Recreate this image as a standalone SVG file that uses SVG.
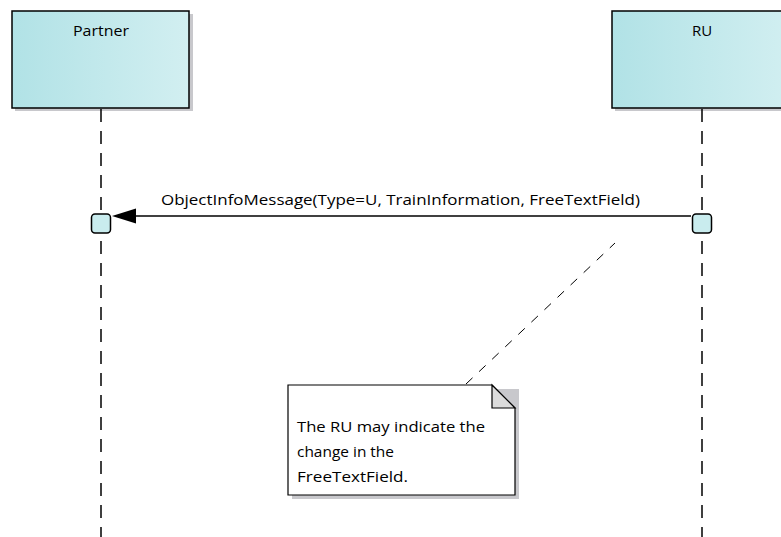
<svg xmlns="http://www.w3.org/2000/svg" width="781" height="537" viewBox="0 0 781 537">
<style>
  text { font-family: "Open Sans", "Liberation Sans", Arial, sans-serif; font-size: 15px; fill: #000; }
  .hdr { fill: url(#hg); stroke: #000; stroke-width: 1.5; }
  .shadow { fill: #c8c8cc; }
  .life { stroke: #000; stroke-width: 1.5; stroke-dasharray: 13 9; fill: none; }
  .act { fill: #c9ecee; stroke: #000; stroke-width: 1.5; }
  .msg { stroke: #000; stroke-width: 1.5; fill: none; }
  .notelink { stroke: #000; stroke-width: 1; stroke-dasharray: 9 9; fill: none; }
  .note { fill: #fff; stroke: #000; stroke-width: 1.2; }
  .fold { fill: #dcdcdc; stroke: #000; stroke-width: 1.2; }
</style>
<defs>
  <linearGradient id="hg" x1="0" y1="0" x2="1" y2="0">
    <stop offset="0" stop-color="#b1e2e6"/>
    <stop offset="1" stop-color="#d2eff1"/>
  </linearGradient>
</defs>
<rect width="781" height="537" fill="#fff"/>

<g id="partner">
  <rect class="shadow" x="15" y="14" width="178" height="97"/>
  <rect class="hdr" x="12" y="11" width="177" height="97"/>
  <text x="101" y="36" text-anchor="middle" textLength="56" lengthAdjust="spacingAndGlyphs">Partner</text>
  <line class="life" x1="101" y1="109" x2="101" y2="537"/>
</g>

<g id="ru">
  <rect class="shadow" x="615" y="14" width="180" height="97"/>
  <rect class="hdr" x="612" y="11" width="180" height="97"/>
  <text x="702" y="36" text-anchor="middle">RU</text>
  <line class="life" x1="702" y1="109" x2="702" y2="537"/>
</g>

<g id="connectors">
  <line class="msg" x1="691" y1="216" x2="134" y2="216"/>
  <polygon points="112,216 136,208.5 136,223.5" fill="#000"/>
  <text x="161" y="205" textLength="479" lengthAdjust="spacingAndGlyphs">ObjectInfoMessage(Type=U, TrainInformation, FreeTextField)</text>
  <line class="notelink" x1="466" y1="384" x2="615" y2="243"/>
</g>

<g id="activations">
  <rect class="act" x="91.5" y="214" width="19" height="19" rx="3.5"/>
  <rect class="act" x="692.5" y="214" width="19" height="19" rx="3.5"/>
</g>

<g id="note">
  <polygon class="shadow" points="292,389 519,389 519,499 292,499"/>
  <polygon class="note" points="288,385 492,385 515,408 515,495 288,495"/>
  <polygon class="fold" points="492,385 515,408 492,408"/>
  <text x="297" y="432" textLength="188" lengthAdjust="spacingAndGlyphs">The RU may indicate the</text>
  <text x="297" y="457" textLength="97" lengthAdjust="spacingAndGlyphs">change in the</text>
  <text x="297" y="482" textLength="111" lengthAdjust="spacingAndGlyphs">FreeTextField.</text>
</g>
</svg>
